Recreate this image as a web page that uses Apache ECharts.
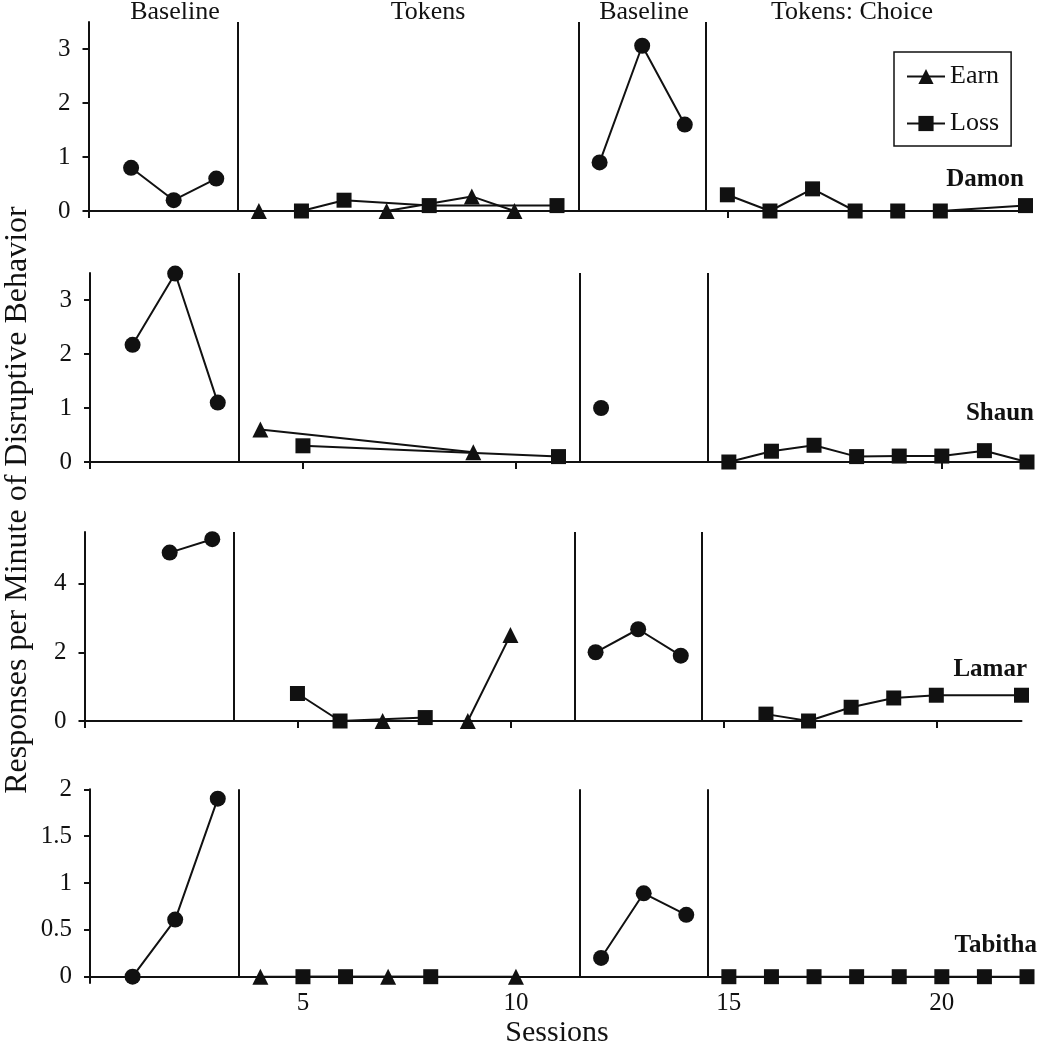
<!DOCTYPE html>
<html>
<head>
<meta charset="utf-8">
<script src="https://cdn.jsdelivr.net/npm/echarts@6/dist/echarts.min.js"></script>
<style>
html,body{margin:0;padding:0;background:#fff;}
#chart{width:1038px;height:1050px;}
</style>
</head>
<body>
<div id="chart"></div>
<script>
// ---- data: [session, responses per minute] ----
const participants = ['Damon', 'Shaun', 'Lamar', 'Tabitha'];
const phaseNames = ['Baseline', 'Tokens', 'Baseline', 'Tokens: Choice'];
const phaseChanges = [3.5, 11.5, 14.5];
const legendNames = ['Earn', 'Loss'];
const xTicks = [0, 5, 10, 15, 20];
const xLabels = [5, 10, 15, 20];

const damonBaseline1 = [[1, 0.8], [2, 0.2], [3, 0.6]];
const damonEarn = [[4, 0], [7, 0], [9, 0.27], [10, 0]];
const damonLoss = [[5, 0], [6, 0.2], [8, 0.1], [11, 0.1]];
const damonBaseline2 = [[12, 0.9], [13, 3.06], [14, 1.6]];
const damonChoice = [[15, 0.3], [16, 0], [17, 0.41], [18, 0], [19, 0], [20, 0], [22, 0.1]];

const shaunBaseline1 = [[1, 2.17], [2, 3.49], [3, 1.1]];
const shaunEarn = [[4, 0.6], [9, 0.18]];
const shaunLoss = [[5, 0.3], [11, 0.1]];
const shaunBaseline2 = [[12, 1.0]];
const shaunChoice = [[15, 0], [16, 0.2], [17, 0.31], [18, 0.1], [19, 0.11], [20, 0.11], [21, 0.21], [22, 0]];

const lamarBaseline1 = [[2, 4.9], [3, 5.29]];
const lamarEarn = [[7, 0], [9, 0], [10, 2.5]];
const lamarLoss = [[5, 0.8], [6, 0], [8, 0.1]];
const lamarBaseline2 = [[12, 2.0], [13, 2.67], [14, 1.9]];
const lamarChoice = [[16, 0.2], [17, 0], [18, 0.4], [19, 0.67], [20, 0.75], [22, 0.75]];

const tabithaBaseline1 = [[1, 0], [2, 0.61], [3, 1.9]];
const tabithaEarn = [[4, 0], [7, 0], [10, 0]];
const tabithaLoss = [[5, 0], [6, 0], [8, 0]];
const tabithaBaseline2 = [[12, 0.2], [13, 0.89], [14, 0.66]];
const tabithaChoice = [[15, 0], [16, 0], [17, 0], [18, 0], [19, 0], [20, 0], [21, 0], [22, 0]];

const yMax = [3.5, 3.5, 5.5, 2];
const yTicks = [[0, 1, 2, 3], [0, 1, 2, 3], [0, 2, 4], [0, 0.5, 1, 1.5, 2]];

const panelData = [
  [damonBaseline1, damonEarn, damonLoss, damonBaseline2, damonChoice],
  [shaunBaseline1, shaunEarn, shaunLoss, shaunBaseline2, shaunChoice],
  [lamarBaseline1, lamarEarn, lamarLoss, lamarBaseline2, lamarChoice],
  [tabithaBaseline1, tabithaEarn, tabithaLoss, tabithaBaseline2, tabithaChoice]
];

// ---- layout ----
const INK = '#111';
const FONT = '"Liberation Serif", "Times New Roman", serif';
const grids = [
  {left: 88.5, top: 22, width: 937, height: 189},
  {left: 90, top: 273, width: 937, height: 189},
  {left: 84.5, top: 532, width: 937, height: 189},
  {left: 90, top: 789.3, width: 937, height: 187.4}
];

const xAxes = grids.map((g, i) => ({
  type: 'value', gridIndex: i, min: 0, max: 22,
  axisLine: {show: true, onZero: false, lineStyle: {color: INK, width: 2}},
  axisTick: {show: true, customValues: xTicks, length: 7, lineStyle: {color: INK, width: 2}},
  axisLabel: {show: i === 3, customValues: xLabels, margin: 14,
    fontFamily: FONT, fontSize: 25, color: INK},
  splitLine: {show: false}
}));

const yAxes = grids.map((g, i) => ({
  type: 'value', gridIndex: i, min: 0, max: yMax[i],
  axisLine: {show: true, lineStyle: {color: INK, width: 2}},
  axisTick: {show: true, customValues: yTicks[i], length: 6, lineStyle: {color: INK, width: 2}},
  axisLabel: {show: true, customValues: yTicks[i], margin: 18,
    fontFamily: FONT, fontSize: 25, color: INK},
  splitLine: {show: false}
}));

const symbolOf = {Baseline: 'circle', Earn: 'triangle', Loss: 'rect'};
const sizeOf = {Baseline: 16, Earn: 16, Loss: 15};
const kinds = ['Baseline', 'Earn', 'Loss', 'Baseline', 'Loss'];

const series = [];
panelData.forEach((sets, i) => {
  sets.forEach((d, k) => {
    const name = kinds[k];
    const s = {
      name: name, type: 'line', xAxisIndex: i, yAxisIndex: i, data: d,
      symbol: symbolOf[name], symbolSize: sizeOf[name],
      itemStyle: {color: INK, borderWidth: 0},
      lineStyle: {color: INK, width: 2},
      emphasis: {disabled: true}, z: 5
    };
    if (k === 0) {
      s.markLine = {
        silent: true, symbol: 'none', animation: false,
        lineStyle: {color: INK, width: 2, type: 'solid'},
        label: {show: false},
        data: phaseChanges.map(v => ({xAxis: v}))
      };
    }
    series.push(s);
  });
});

const graphic = [];
const phaseX = [175, 428, 644, 852];
phaseNames.forEach((t, i) => graphic.push({
  type: 'text', x: phaseX[i], y: 12,
  style: {text: t, font: '26px ' + FONT, fill: INK, textAlign: 'center', textVerticalAlign: 'middle'}
}));
const nameX = [1024, 1034, 1027, 1037];
const nameY = [179.5, 414, 669.5, 946];
participants.forEach((t, i) => graphic.push({
  type: 'text', x: nameX[i], y: nameY[i],
  style: {text: t, font: 'bold 25px ' + FONT, fill: INK, textAlign: 'right', textVerticalAlign: 'middle'}
}));
graphic.push({
  type: 'text', x: 557, y: 1033,
  style: {text: 'Sessions', font: '30px ' + FONT, fill: INK, textAlign: 'center', textVerticalAlign: 'middle'}
});
graphic.push({
  type: 'text', x: 18, y: 500, rotation: Math.PI / 2,
  style: {text: 'Responses per Minute of Disruptive Behavior', font: '32px ' + FONT, fill: INK,
    textAlign: 'center', textVerticalAlign: 'middle'}
});

const option = {
  animation: false,
  backgroundColor: '#fff',
  grid: grids,
  xAxis: xAxes,
  yAxis: yAxes,
  legend: {
    data: legendNames, orient: 'vertical', left: 894, top: 52,
    padding: [10, 12, 8, 12], itemGap: 18, itemWidth: 38, itemHeight: 19, itemTextGap: 4,
    borderColor: INK, borderWidth: 1.5, backgroundColor: '#fff',
    selectedMode: false,
    textStyle: {fontFamily: FONT, fontSize: 26, color: INK, lineHeight: 29}
  },
  graphic: graphic,
  series: series
};

const chart = echarts.init(document.getElementById('chart'), null, {renderer: 'canvas'});
chart.setOption(option);
</script>
</body>
</html>
